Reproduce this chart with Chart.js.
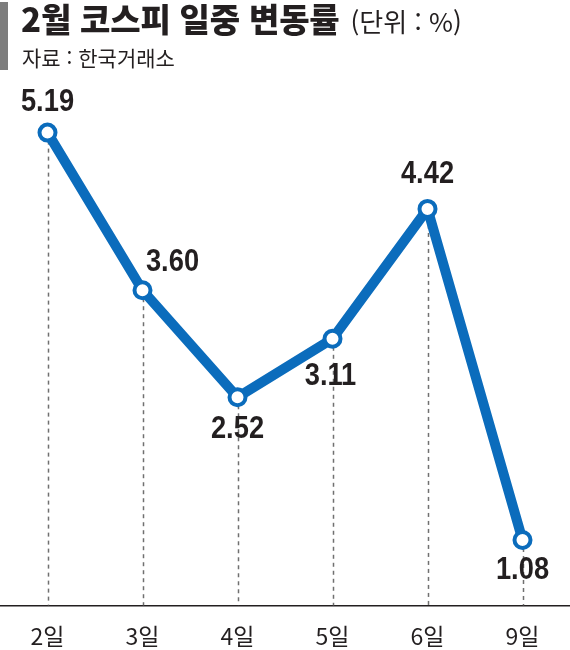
<!DOCTYPE html>
<html lang="ko">
<head>
<meta charset="utf-8">
<script src="https://cdn.jsdelivr.net/npm/chart.js@4"></script>
<style>
  html, body { margin: 0; padding: 0; background: #fff; }
  #wrap { position: relative; width: 570px; height: 650px; overflow: hidden; }
  #bar { position: absolute; left: 0; top: 2px; width: 8px; height: 68px; background: #7d7d7d; }
  #title { position: absolute; left: 21px; top: -1px; font-family: "Noto Sans CJK KR", sans-serif;
    font-weight: 900; font-size: 33px; line-height: 38px; color: #231f20; letter-spacing: -0.2px; white-space: nowrap; }
  #title span { font-weight: 400; font-size: 26px; letter-spacing: 0; margin-left: 2px; }
  #sub { position: absolute; left: 22px; top: 44px; font-family: "Noto Sans CJK KR", sans-serif;
    font-size: 21px; line-height: 26px; color: #231f20; white-space: nowrap; }
  #chartBox { position: absolute; left: 0; top: 0; width: 570px; height: 667px; }
  canvas { display: block; }
</style>
</head>
<body>
<div id="wrap">
  <div id="chartBox"><canvas id="grafico" width="570" height="667"></canvas></div>
  <div id="bar"></div>
  <div id="title">2월 코스피 일중 변동률 <span>(단위 : %)</span></div>
  <div id="sub">자료 : 한국거래소</div>
</div>
<script>
// dados
const dias = ["2일", "3일", "4일", "5일", "6일", "9일"];
const variacao = [5.19, 3.60, 2.52, 3.11, 4.42, 1.08];

const azul = "#0b6cbc";

// deslocamento dos rótulos (x, y) em relação ao ponto
const posRotulos = [[0, -30], [30, -28], [0, 32], [-2, 38], [0, -34], [0, 30]];

// linhas tracejadas do ponto até o eixo
const linhasGuia = {
  id: "linhasGuia",
  beforeDatasetsDraw(chart) {
    const { ctx, chartArea } = chart;
    const pontos = chart.getDatasetMeta(0).data;
    ctx.save();
    ctx.strokeStyle = "#707070";
    ctx.lineWidth = 1.5;
    ctx.setLineDash([4, 4]);
    pontos.forEach((p) => {
      ctx.beginPath();
      ctx.moveTo(Math.round(p.x) + 0.5, p.y);
      ctx.lineTo(Math.round(p.x) + 0.5, chartArea.bottom);
      ctx.stroke();
    });
    ctx.restore();
  },
};

// rótulos de valor (fonte levemente condensada)
const rotulos = {
  id: "rotulos",
  afterDatasetsDraw(chart) {
    const { ctx } = chart;
    const pontos = chart.getDatasetMeta(0).data;
    ctx.save();
    ctx.font = "bold 31px 'Liberation Sans', Arial, sans-serif";
    ctx.fillStyle = "#231f20";
    ctx.textAlign = "center";
    ctx.textBaseline = "middle";
    pontos.forEach((p, i) => {
      const [dx, dy] = posRotulos[i];
      ctx.save();
      ctx.translate(p.x + dx, p.y + dy);
      ctx.scale(0.88, 1);
      ctx.fillText(variacao[i].toFixed(2), 0, 0);
      ctx.restore();
    });
    ctx.restore();
  },
};

new Chart(document.getElementById("grafico"), {
  type: "line",
  data: {
    labels: dias,
    datasets: [
      {
        data: variacao,
        borderColor: azul,
        borderWidth: 10,
        borderJoinStyle: "round",
        pointRadius: 8,
        pointBorderWidth: 4,
        pointBackgroundColor: "#fff",
        pointBorderColor: azul,
        tension: 0,
        clip: false,
      },
    ],
  },
  options: {
    responsive: false,
    animation: false,
    devicePixelRatio: 1,
    layout: { autoPadding: false, padding: { top: 90, left: 0, right: 0, bottom: 0 } },
    plugins: {
      legend: { display: false },
      tooltip: { enabled: false },
    },
    scales: {
      x: {
        offset: true,
        grid: { display: false, drawTicks: false },
        border: { display: true, color: "#231f20", width: 1.5 },
        ticks: {
          padding: 17,
          color: "#231f20",
          font: { family: "'Noto Sans CJK KR', sans-serif", size: 23 },
        },
      },
      y: {
        display: false,
        min: 0.42,
        max: 5.62,
      },
    },
  },
  plugins: [linhasGuia, rotulos],
});
</script>
</body>
</html>
